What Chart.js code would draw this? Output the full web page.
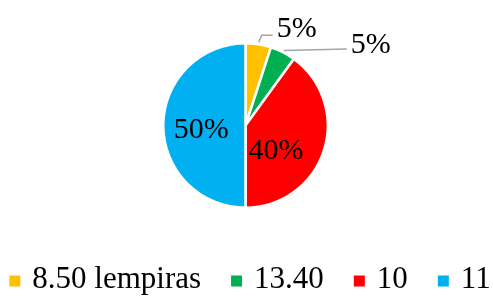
<!DOCTYPE html>
<html>
<head>
    <title>Gráfico de pastel</title>
    <script src="https://cdn.jsdelivr.net/npm/chart.js"></script>
    <style>
        body { margin: 0; background: #fff; }
        #wrap { width: 493px; height: 297px; }
    </style>
</head>
<body>
    <div id="wrap"><canvas id="miGrafico"></canvas></div>

    <script>
        // datos
        const categorias = ['8.50 lempiras', '13.40', '10', '11'];
        const porcentajes = [5, 5, 40, 50];
        const colores = ['#FFC000', '#00B050', '#FF0000', '#00B0F0'];

        const fuente = "'Liberation Serif', 'Times New Roman', serif";

        // etiquetas de porcentaje, con linea guia para las pequeñas
        const etiquetas = {
            id: 'etiquetas',
            afterDatasetsDraw(chart, args, opts) {
                const ctx = chart.ctx;
                const meta = chart.getDatasetMeta(0);
                ctx.save();
                ctx.font = opts.size + 'px ' + fuente;
                ctx.fillStyle = '#000';
                ctx.textBaseline = 'alphabetic';
                meta.data.forEach((arc, i) => {
                    const p = arc.getProps(['x', 'y', 'startAngle', 'endAngle', 'outerRadius']);
                    const mid = (p.startAngle + p.endAngle) / 2;
                    const txt = porcentajes[i] + '%';
                    const aj = opts.ajustes[i];
                    if (aj.fuera) {
                        const r0 = p.outerRadius + 2;
                        const x0 = p.x + Math.cos(mid) * r0;
                        const y0 = p.y + Math.sin(mid) * r0;
                        const x1 = x0 + aj.codo[0];
                        const y1 = y0 + aj.codo[1];
                        const x2 = x1 + aj.largo;
                        const y2 = y1 + aj.caida;
                        ctx.strokeStyle = '#A6A6A6';
                        ctx.lineWidth = 1.5;
                        ctx.beginPath();
                        ctx.moveTo(x0, y0);
                        ctx.lineTo(x1, y1);
                        ctx.lineTo(x2, y2);
                        ctx.stroke();
                        ctx.textAlign = 'left';
                        ctx.fillText(txt, x2 + 4, y2 + aj.dy);
                    } else {
                        const r = p.outerRadius * aj.r;
                        const a = mid + aj.da;
                        ctx.textAlign = 'center';
                        ctx.fillText(txt, p.x + Math.cos(a) * r, p.y + Math.sin(a) * r + 10);
                    }
                });
                ctx.restore();
            }
        };

        // leyenda inferior en una sola fila
        const leyenda = {
            id: 'leyenda',
            afterDraw(chart, args, opts) {
                const ctx = chart.ctx;
                ctx.save();
                ctx.font = opts.size + 'px ' + fuente;
                ctx.textBaseline = 'alphabetic';
                ctx.textAlign = 'left';
                const anchos = categorias.map(c => opts.caja + opts.separa + ctx.measureText(c).width);
                const total = anchos.reduce((s, w) => s + w, 0) + opts.hueco * (categorias.length - 1);
                let x = opts.centro - total / 2;
                categorias.forEach((c, i) => {
                    ctx.fillStyle = colores[i];
                    ctx.fillRect(x, opts.yCaja - opts.caja / 2, opts.caja, opts.caja);
                    ctx.fillStyle = '#000';
                    ctx.fillText(c, x + opts.caja + opts.separa, opts.yTexto);
                    x += anchos[i] + opts.hueco;
                });
                ctx.restore();
            }
        };

        const datos = {
            labels: categorias,
            datasets: [{
                data: porcentajes,
                backgroundColor: colores,
                borderColor: '#fff',
                borderWidth: 2.5
            }]
        };

        const configuracion = {
            type: 'pie',
            data: datos,
            plugins: [etiquetas, leyenda],
            options: {
                responsive: true,
                maintainAspectRatio: false,
                animation: false,
                layout: { padding: { top: 42, bottom: 88, left: 0, right: 2 } },
                plugins: {
                    tooltip: { enabled: false },
                    legend: { display: false },
                    leyenda: {
                        size: 31,
                        caja: 11,
                        separa: 12,
                        hueco: 30,
                        centro: 250,
                        yCaja: 281,
                        yTexto: 288
                    },
                    etiquetas: {
                        size: 30,
                        ajustes: [
                            { fuera: true, codo: [3, -7], largo: 11, caida: 0, dy: 2 },
                            { fuera: true, codo: [0, 0], largo: 63, caida: -1.5, dy: 4 },
                            { fuera: false, r: 0.466, da: 0.332 },
                            { fuera: false, r: 0.54, da: -0.067 }
                        ]
                    }
                }
            }
        };

        const ctx = document.getElementById('miGrafico').getContext('2d');
        const miGrafico = new Chart(ctx, configuracion);
    </script>
</body>
</html>
